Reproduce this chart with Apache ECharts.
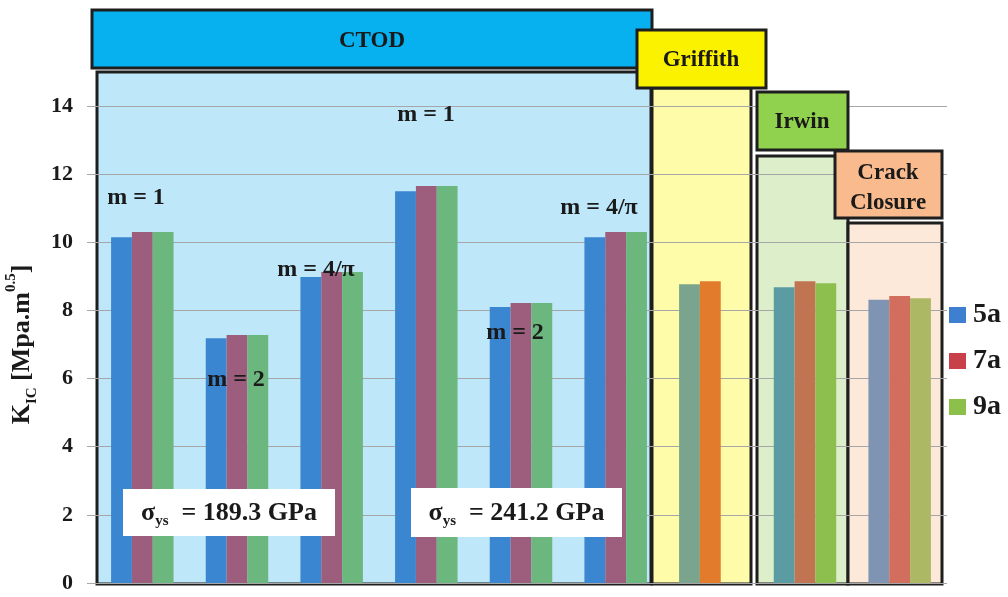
<!DOCTYPE html>
<html>
<head>
<meta charset="utf-8">
<script src="https://cdn.jsdelivr.net/npm/echarts@6/dist/echarts.min.js"></script>
<style>
  html, body { margin: 0; padding: 0; background: #ffffff; }
  #chart { width: 1008px; height: 597px; }
</style>
</head>
<body>
<div id="chart"></div>
<script>
// K_IC values per model / yield strength group, for crack lengths 5a, 7a, 9a
const categories = [
  'CTOD 189.3 m=1', 'CTOD 189.3 m=2', 'CTOD 189.3 m=4/π',
  'CTOD 241.2 m=1', 'CTOD 241.2 m=2', 'CTOD 241.2 m=4/π',
  'Griffith', 'Irwin', 'Crack Closure'
];
const seriesNames = ['5a', '7a', '9a'];
const values5a = [10.15, 7.18, 8.98, 11.50, 8.10, 10.15, 8.77, 8.68, 8.31];
const values7a = [10.30, 7.28, 9.13, 11.65, 8.22, 10.30, 8.86, 8.86, 8.42];
const values9a = [10.30, 7.28, 9.13, 11.65, 8.22, 10.30, null, 8.80, 8.36];
const yTicks = [0, 2, 4, 6, 8, 10, 12, 14];

// which background panel each category sits in
const panelOfCategory = ['ctod', 'ctod', 'ctod', 'ctod', 'ctod', 'ctod', 'griffith', 'irwin', 'closure'];

const FONT = '"Liberation Serif", "Times New Roman", serif';
const INK = '#1a1a1a';

// bar tints as they appear on each panel
const barColors = {
  ctod:     ['#3a86d0', '#9c5e7c', '#6cb77e'],
  griffith: ['#7ba48e', '#e27c2c', '#9bbb59'],
  irwin:    ['#5a9ca2', '#c07452', '#8dbf4f'],
  closure:  ['#7f94b2', '#d26e5d', '#adb864']
};
const legendColors = ['#3f7fcf', '#c8404a', '#8cc04a'];

const allValues = [values5a, values7a, values9a];

function buildSeries() {
  return seriesNames.map((name, s) => ({
    name: name,
    type: 'bar',
    barGap: '0%',
    barCategoryGap: '34%',
    z: 5,
    itemStyle: { color: legendColors[s] },
    data: allValues[s].map((v, i) => ({
      value: v,
      itemStyle: { color: barColors[panelOfCategory[i]][s] }
    }))
  }));
}

// panels and header boxes
function box(x, y, w, h, fill, z) {
  return {
    type: 'rect', z: z,
    shape: { x: x, y: y, width: w, height: h },
    style: { fill: fill, stroke: '#1e1e1e', lineWidth: 3 }
  };
}
function label(text, x, y, size, z) {
  return {
    type: 'text', z: z || 50, x: x, y: y,
    style: {
      text: text, fill: INK, font: 'bold ' + size + 'px ' + FONT,
      textAlign: 'center', textVerticalAlign: 'middle'
    }
  };
}
function sigmaBox(x, y, w, h, value) {
  return [
    { type: 'rect', z: 40, shape: { x: x, y: y, width: w, height: h }, style: { fill: '#ffffff' } },
    {
      type: 'text', z: 50, x: x + w / 2, y: y + h / 2 + 1,
      style: {
        text: '{m|σ}{s|ys}{m|  = ' + value + ' GPa}',
        textAlign: 'center', textVerticalAlign: 'middle',
        rich: {
          m: { font: 'bold 26px ' + FONT, fill: INK, lineHeight: 30 },
          s: { font: 'bold 15px ' + FONT, fill: INK, verticalAlign: 'bottom', lineHeight: 20 }
        }
      }
    }
  ];
}

const graphics = [
  // panel backgrounds (behind grid lines)
  box(97, 72, 554, 512, '#bee8f9', -5),
  box(652, 88, 99, 496, '#fefba9', -5),
  box(757, 156, 91, 428, '#dcefca', -5),
  box(848, 223, 94, 361, '#fce9da', -5),
  // headers
  box(92, 10, 560, 58, '#07b0ee', 30),
  box(637, 30, 129, 58, '#fbf200', 30),
  box(757, 92, 91, 58, '#90d14e', 30),
  box(835, 151, 107, 67, '#f9bb8e', 30),
  label('CTOD', 372, 41, 23),
  label('Griffith', 701, 60, 23),
  label('Irwin', 802, 122, 23),
  label('Crack', 888, 173, 23),
  label('Closure', 888, 203, 23),
  // shape factor annotations
  label('m = 1', 136, 198, 24),
  label('m = 2', 236, 380, 24),
  label('m = 4/π', 316, 270, 24),
  label('m = 1', 426, 115, 24),
  label('m = 2', 515, 333, 24),
  label('m = 4/π', 599, 208, 24)
].concat(sigmaBox(123, 489, 212, 47, '189.3'))
 .concat(sigmaBox(411, 488, 211, 49, '241.2'));

const chart = echarts.init(document.getElementById('chart'), null, { renderer: 'canvas' });
chart.setOption({
  backgroundColor: '#ffffff',
  animation: false,
  grid: { left: 95, right: 61, top: 106, bottom: 14, containLabel: false, outerBoundsMode: 'none' },
  legend: {
    data: seriesNames,
    orient: 'vertical',
    left: 944, top: 296,
    icon: 'rect',
    itemWidth: 17, itemHeight: 16, itemGap: 18,
    textStyle: { fontFamily: FONT, fontWeight: 'bold', fontSize: 28, color: INK, padding: [0, 0, 0, 2] }
  },
  xAxis: {
    type: 'category',
    data: categories,
    axisLine: { show: false },
    axisTick: { show: false },
    axisLabel: { show: false },
    splitLine: { show: false }
  },
  yAxis: {
    type: 'value',
    min: yTicks[0],
    max: yTicks[yTicks.length - 1],
    interval: yTicks[1] - yTicks[0],
    axisLine: { show: false },
    axisTick: { show: true, length: 8, lineStyle: { color: '#a8a8a8' } },
    axisLabel: { fontFamily: FONT, fontWeight: 'bold', fontSize: 22, color: INK, margin: 22 },
    splitLine: { lineStyle: { color: '#a6a6a6', width: 1 } },
    name: '{k|K}{s|IC}{k| [Mpa.m}{p|0.5}{k|]}',
    nameLocation: 'middle',
    nameRotate: 90,
    nameGap: 54,
    nameTextStyle: {
      rich: {
        k: { fontFamily: FONT, fontWeight: 'bold', fontSize: 26, color: INK, lineHeight: 30 },
        s: { fontFamily: FONT, fontWeight: 'bold', fontSize: 15, color: INK, verticalAlign: 'bottom', lineHeight: 20 },
        p: { fontFamily: FONT, fontWeight: 'bold', fontSize: 15, color: INK, verticalAlign: 'top', lineHeight: 36 }
      }
    }
  },
  graphic: graphics,
  series: buildSeries()
});
</script>
</body>
</html>
